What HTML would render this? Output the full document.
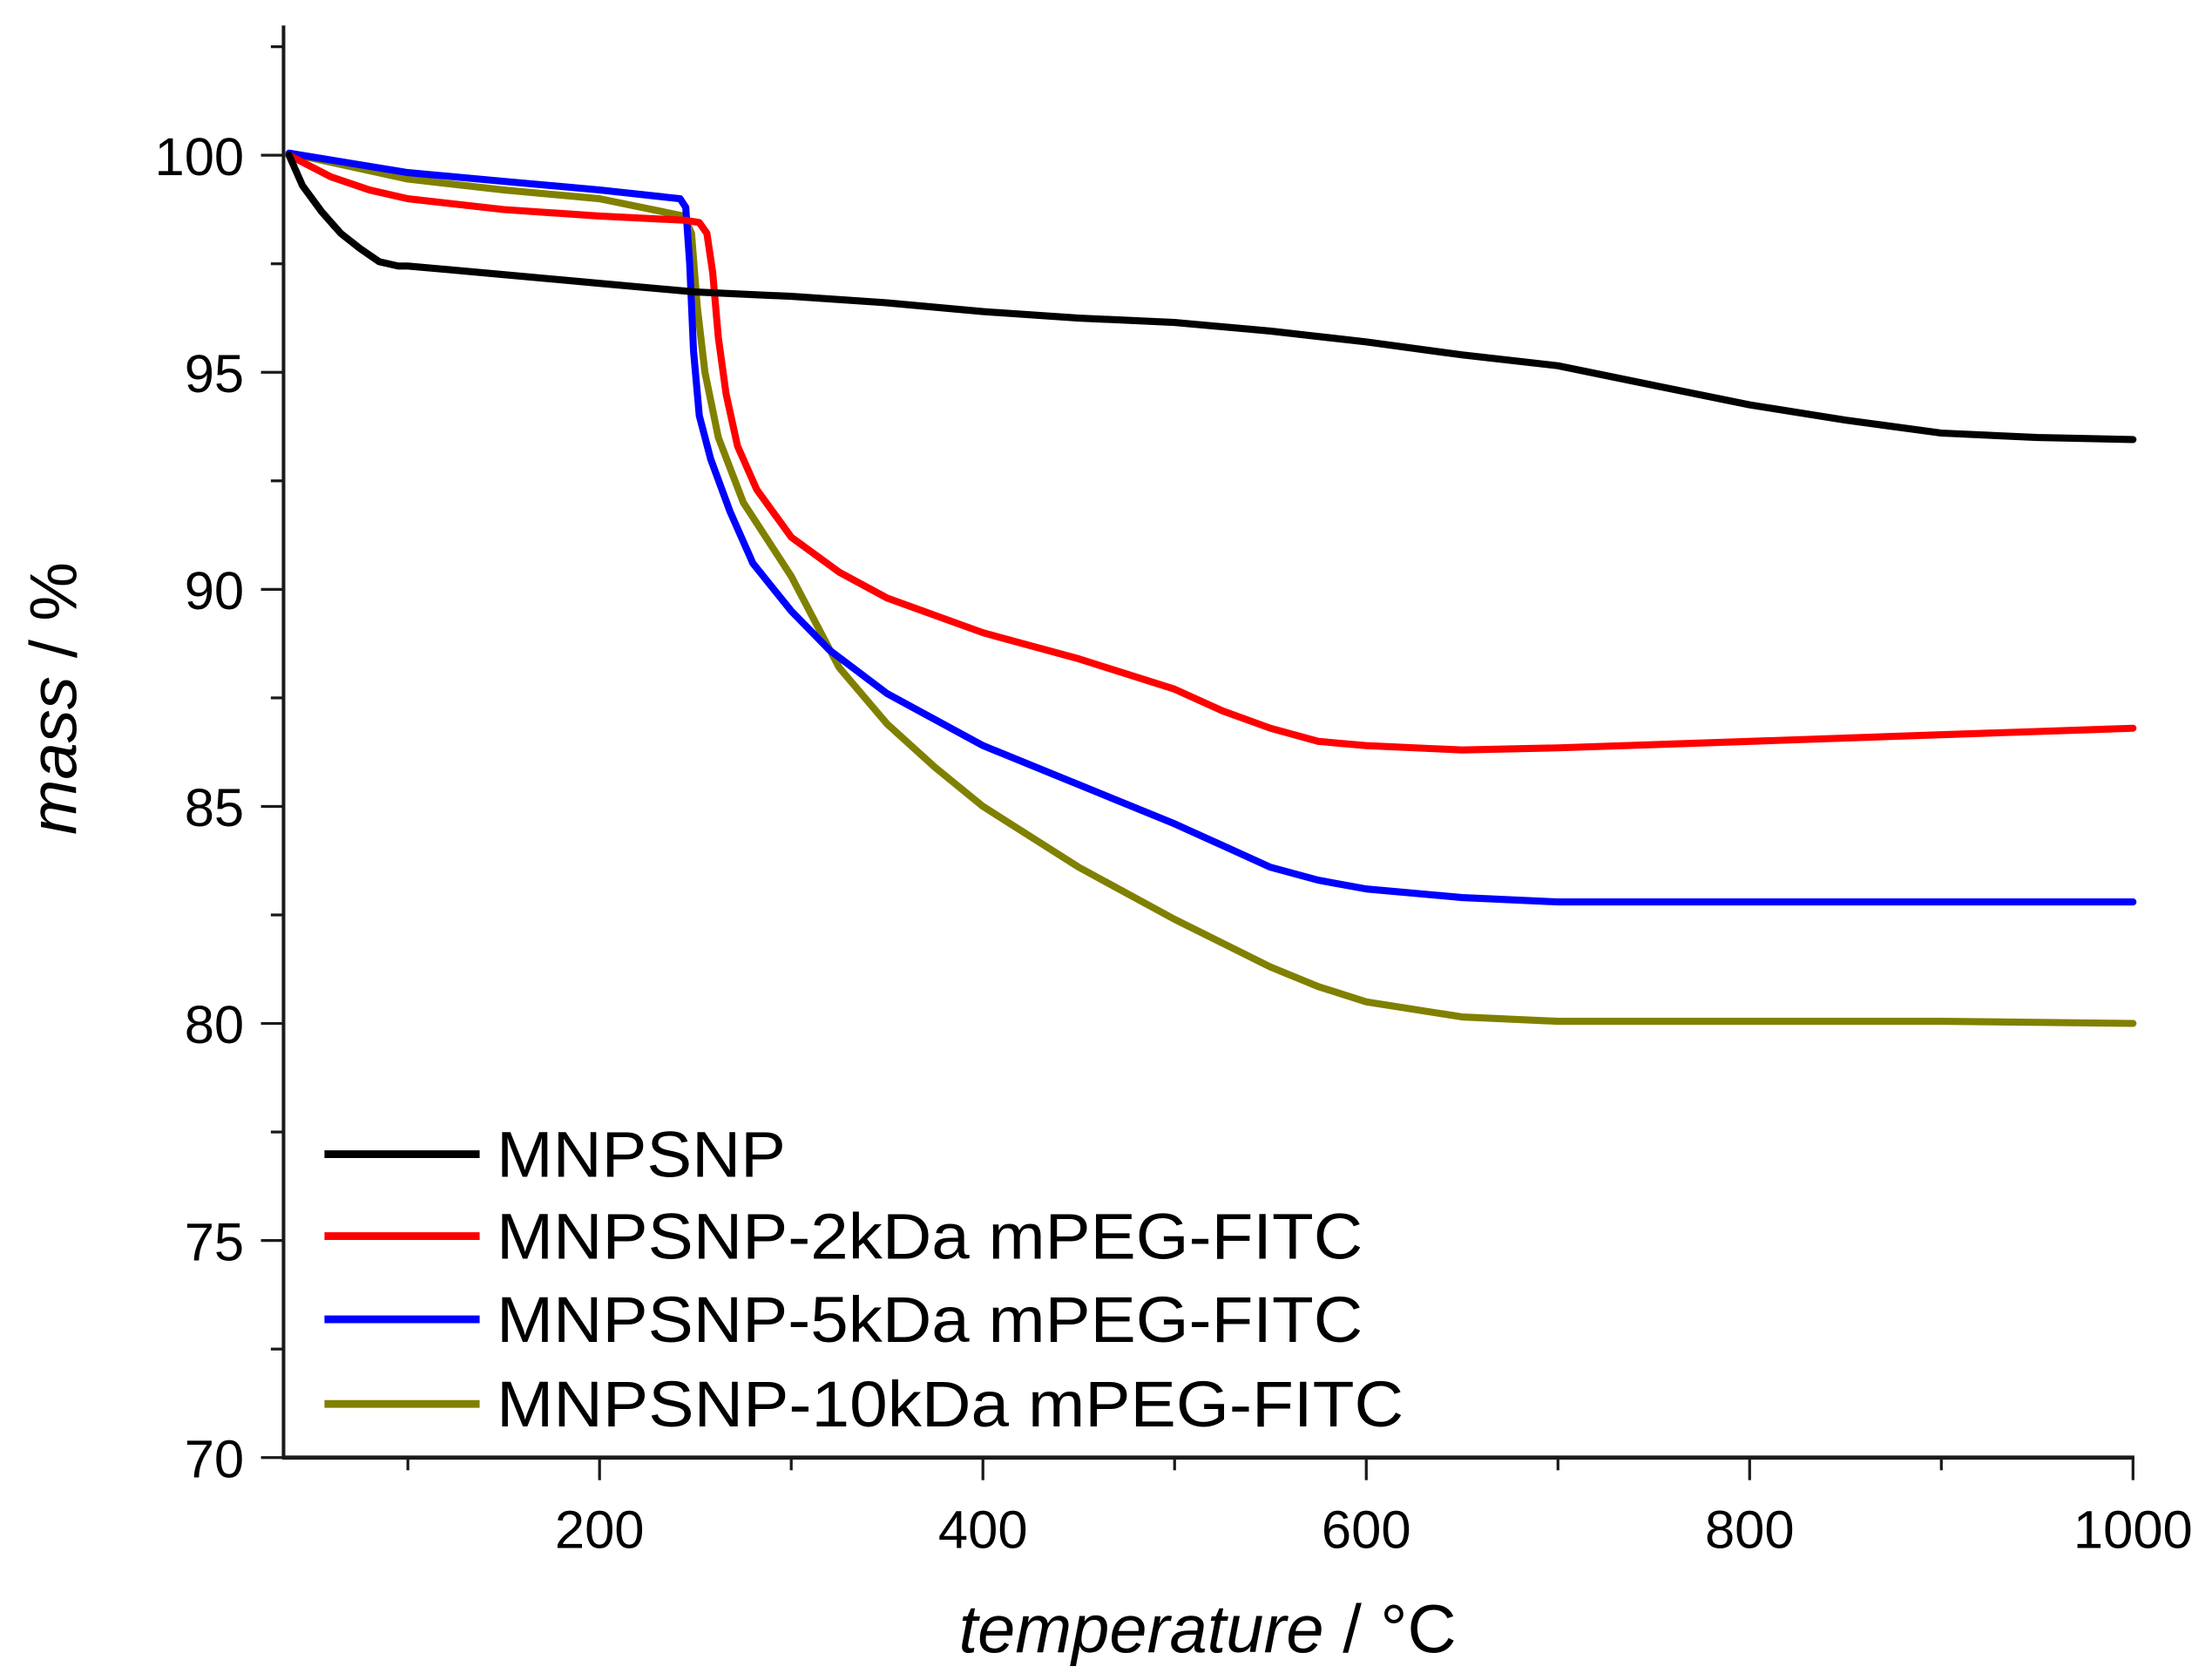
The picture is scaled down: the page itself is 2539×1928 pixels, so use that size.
<!DOCTYPE html>
<html><head><meta charset="utf-8"><style>
html,body{margin:0;padding:0;background:#fff;}
svg{display:block;}
text{font-family:"Liberation Sans",Arial,sans-serif;fill:#000;}
</style></head><body>
<svg id="chart" width="2539" height="1928" viewBox="0 0 1568 1190.6" xmlns="http://www.w3.org/2000/svg">
<g id="axes"></g>
<g id="series"></g>
<g id="legend"></g>
<text transform="translate(54,495) rotate(-90)" text-anchor="middle" font-size="47"><tspan font-style="italic">mass</tspan> / %</text>
<text x="856" y="1171" text-anchor="middle" font-size="48"><tspan font-style="italic">temperature</tspan> / °C</text>
</svg>
<script>
const xTicks=[200,400,600,800,1000];
const xMinor=[100,300,500,700,900];
const yTicks=[70,75,80,85,90,95,100];
const yMinor=[72.5,77.5,82.5,87.5,92.5,97.5,102.5];
const seriesNames=["MNPSNP","MNPSNP-2kDa mPEG-FITC","MNPSNP-5kDa mPEG-FITC","MNPSNP-10kDa mPEG-FITC"];
const seriesColors=["#000000","#ff0000","#0000ff","#808000"];
const tBlack=[38,45,55,65,75,85,95,100,150,200,250,300,350,400,450,500,550,600,650,700,750,800,850,900,950,1000];
const mBlack=[100,99.3,98.7,98.2,97.85,97.55,97.45,97.45,97.25,97.05,96.85,96.75,96.6,96.4,96.25,96.15,95.95,95.7,95.4,95.15,94.7,94.25,93.9,93.6,93.5,93.45];
const tRed=[38,60,80,100,150,200,245,252,256,259,262,266,272,282,300,325,350,400,450,500,525,550,575,600,650,700,800,900,1000];
const mRed=[100,99.5,99.2,99.0,98.75,98.6,98.5,98.45,98.2,97.3,95.8,94.5,93.3,92.3,91.2,90.4,89.8,89.0,88.4,87.7,87.2,86.8,86.5,86.4,86.3,86.35,86.5,86.65,86.8];
const tBlue=[38,100,150,200,242,245,247,249,252,258,268,280,300,320,350,400,450,500,550,575,600,650,700,800,1000];
const mBlue=[100.05,99.6,99.4,99.2,99.0,98.8,97.5,95.5,94,93,91.8,90.6,89.5,88.6,87.6,86.4,85.5,84.6,83.6,83.3,83.1,82.9,82.8,82.8,82.8];
const tOlive=[38,100,150,200,244,248,251,255,262,275,300,325,350,375,400,450,500,550,575,600,650,700,800,900,1000];
const mOlive=[100.05,99.45,99.2,99.0,98.6,98.2,96.5,95,93.5,92,90.3,88.2,86.9,85.9,85,83.6,82.4,81.3,80.85,80.5,80.15,80.05,80.05,80.05,80.0];

const NS="http://www.w3.org/2000/svg";
const X0=201,X1=1512,Y0=1033,YT=18;
function xs(t){return 425+(t-200)*(1512-425)/800;}
function ys(m){return 1033-(m-70)*(1033-110)/30;}
function mk(tag,attrs,parent){const e=document.createElementNS(NS,tag);for(const k in attrs)e.setAttribute(k,attrs[k]);parent.appendChild(e);return e;}
const axes=document.getElementById('axes');
let a=mk('line',{x1:X0,y1:YT,x2:X0,y2:Y0,stroke:'#1a1a1a','stroke-width':2.5},axes);


a=mk('line',{x1:X0-1,y1:Y0,x2:X1+1,y2:Y0,stroke:'#1a1a1a','stroke-width':3},axes);


xTicks.forEach(t=>{
 const l=mk('line',{x1:xs(t),y1:Y0,x2:xs(t),y2:Y0+16,stroke:'#1a1a1a','stroke-width':2},axes);
 
 
 const tx=mk('text',{x:xs(t),y:Y0+64,'text-anchor':'middle','font-size':38},axes);tx.textContent=t;
 
 
});
xMinor.forEach(t=>{
 const l=mk('line',{x1:xs(t),y1:Y0,x2:xs(t),y2:Y0+9,stroke:'#1a1a1a','stroke-width':2},axes);
 
 
});
yTicks.forEach(m=>{
 const l=mk('line',{x1:X0-16,y1:ys(m),x2:X0,y2:ys(m),stroke:'#1a1a1a','stroke-width':2},axes);
 
 
 const tx=mk('text',{x:X0-28,y:ys(m)+14,'text-anchor':'end','font-size':38},axes);tx.textContent=m;
 
 
});
yMinor.forEach(m=>{
 const l=mk('line',{x1:X0-9,y1:ys(m),x2:X0,y2:ys(m),stroke:'#1a1a1a','stroke-width':2},axes);
 
 
});
const ser=document.getElementById('series');
const data=[[tBlack,mBlack],[tRed,mRed],[tBlue,mBlue],[tOlive,mOlive]];
const order=[3,2,1,0];
order.forEach(i=>{
 const [T,M]=data[i];
 const pts=T.map((t,j)=>xs(t).toFixed(1)+','+ys(M[j]).toFixed(1)).join(' ');
 const p=mk('polyline',{points:pts,fill:'none',stroke:seriesColors[i],'stroke-width':5,'stroke-linejoin':'round','stroke-linecap':'round'},ser);
 
 
});
const leg=document.getElementById('legend');
const ly=[818,876,935,995];
const lw=[205,614,614,643];
seriesNames.forEach((n,i)=>{
 const l=mk('line',{x1:230,y1:ly[i],x2:340,y2:ly[i],stroke:seriesColors[i],'stroke-width':5.5},leg);
 
 
 const tx=mk('text',{x:352,y:ly[i]+16,'font-size':46,textLength:lw[i],lengthAdjust:'spacingAndGlyphs'},leg);tx.textContent=n;
 
 
});
</script>
</body></html>
